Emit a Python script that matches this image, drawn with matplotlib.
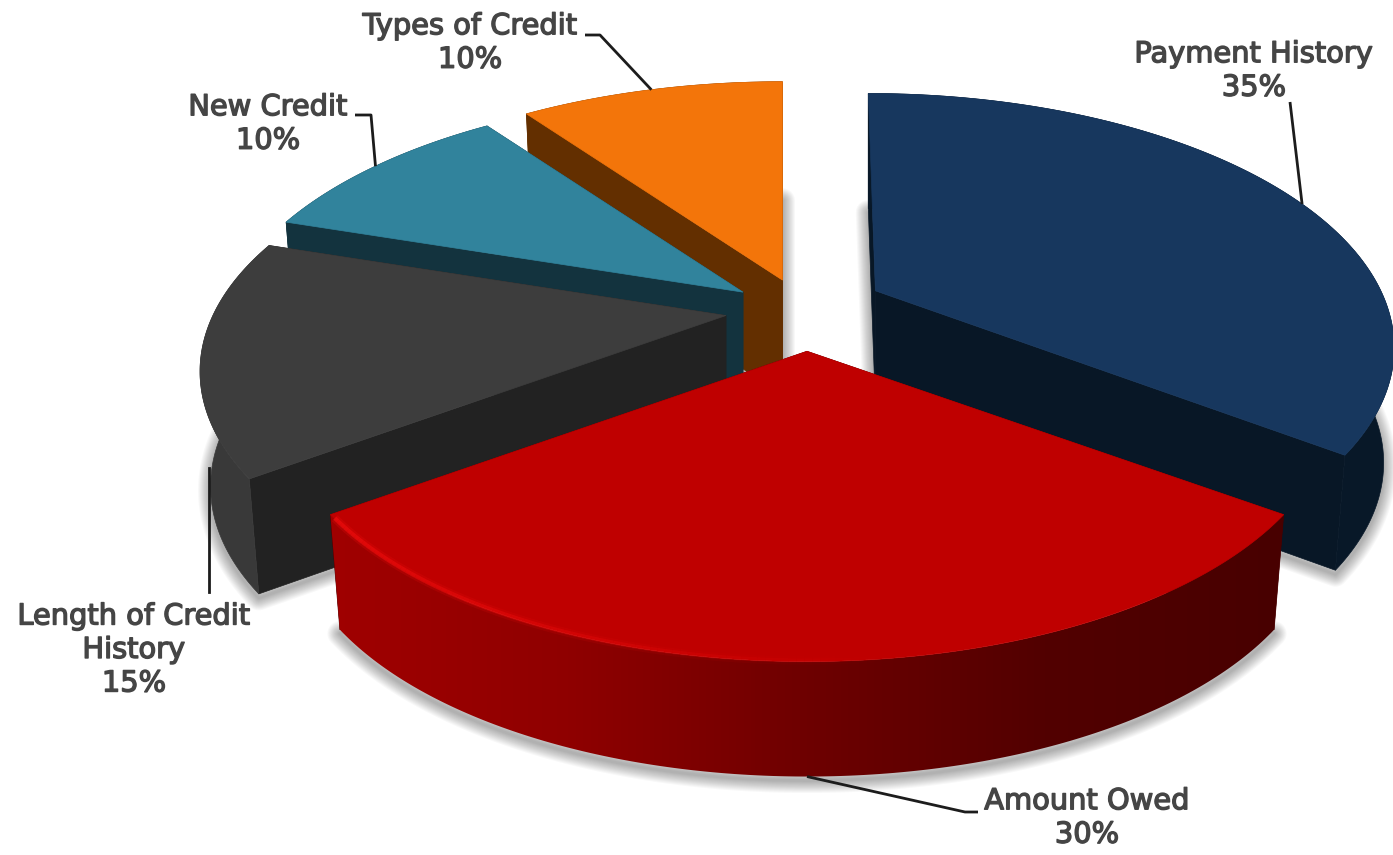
import matplotlib
matplotlib.use("Agg")
import matplotlib.pyplot as plt
import matplotlib.patheffects as pe
import numpy as np
from matplotlib.collections import LineCollection
from matplotlib.colors import to_rgb
from matplotlib.patches import Polygon

categories = ["Payment History", "Amount Owed", "Length of Credit\nHistory", "New Credit", "Types of Credit"]
shares = [35, 30, 15, 10, 10]
top_colors = ["#17375e", "#bf0000", "#3d3d3d", "#31839c", "#f3750a"]
cut_colors = ["#081726", "#4a0000", "#222222", "#13333e", "#632f00"]
rim_colors = ["#081828", "#8a0000", "#393939", "#13333e", "#632f00"]

# how far each slice is pulled out of the pie, and how much its tip is trimmed
explode = [80, 96, 75, 68, 60]
tip_trim = [8, 0, 0, 0, 0]
nudge = [(-5, 5), (5, 2), (-2, 6), (-4, 7), (-1, 3)]

# camera
R = 513.0
FLAT = 242.0 / R
PERSP = 0.22
CX, CY = 802, 304
HEIGHT = 115
BOTTOM_X = 0.98


def project(theta, radius=R):
    # theta in degrees, clockwise from the back of the pie
    t = np.radians(theta)
    x = radius * np.sin(t)
    y = -radius * np.cos(t)
    s = 1 / (1 - y / R * PERSP)
    return x * s, FLAT * y * s


def rim(center, theta):
    lx, ly = project(theta)
    return np.column_stack([center[0] + lx, center[1] + ly])


def rim_bottom(center, theta):
    lx, ly = project(theta)
    return np.column_stack([center[0] + lx * BOTTOM_X, center[1] + ly + HEIGHT])


def soft_shadow(ax, pts, z):
    for lw in np.linspace(18, 2, 12):
        ax.add_patch(Polygon(pts + [0, 4], closed=True, fc="none", ec="black", lw=lw,
                             alpha=0.028, joinstyle="round", zorder=z))


def gradient_fill(ax, poly, stops, z):
    x0, x1 = poly[:, 0].min(), poly[:, 0].max()
    pos = np.linspace(0, 1, 256)
    rgb = np.array([to_rgb(c) for c in stops])
    grid = np.linspace(0, 1, len(stops))
    img = np.stack([np.interp(pos, grid, rgb[:, i]) for i in range(3)], axis=-1)[None, :, :]
    im = ax.imshow(img, extent=(x0, x1, poly[:, 1].max(), poly[:, 1].min()),
                   aspect="auto", zorder=z)
    patch = Polygon(poly, closed=True, transform=ax.transData, fc="none", ec="none")
    ax.add_patch(patch)
    im.set_clip_path(patch)


fig = plt.figure(figsize=(13.93, 8.55), dpi=100)
ax = fig.add_axes([0, 0, 1, 1])
ax.set_xlim(0, 1393)
ax.set_ylim(855, 0)
ax.axis("off")

ends = np.cumsum(shares) / np.sum(shares) * 360
starts = np.concatenate([[0], ends[:-1]])

# back slices first, the big front slice last
draw_order = [4, 3, 2, 0, 1]
slices = {}
for layer, i in enumerate(draw_order):
    z = 2 + layer * 4
    a0, a1 = starts[i], ends[i]
    mid = (a0 + a1) / 2
    t = np.radians(mid)
    center = np.array([CX + explode[i] * np.sin(t) + nudge[i][0],
                       CY - FLAT * explode[i] * np.cos(t) + nudge[i][1]])
    tip = center + tip_trim[i] * np.array([np.sin(t), -np.cos(t) * 0.3])
    theta = np.linspace(a0, a1, 160)
    top = rim(center, theta)
    bottom = rim_bottom(center, theta)
    slices[i] = center

    tip_low = tip + [0, HEIGHT]
    outline = np.vstack([tip_low[None, :], bottom])
    soft_shadow(ax, outline, z)

    for end in (0, -1):
        cut = np.array([tip, top[end], bottom[end], tip_low])
        ax.add_patch(Polygon(cut, closed=True, fc=cut_colors[i], ec=cut_colors[i], lw=0.5, zorder=z + 1))

    wall = np.vstack([top, bottom[::-1]])
    if i == 1:
        gradient_fill(ax, wall, ["#a00000", "#8f0000", "#6e0000", "#520000", "#480000"], z + 2)
    else:
        ax.add_patch(Polygon(wall, closed=True, fc=rim_colors[i], ec=rim_colors[i], lw=0.5, zorder=z + 2))

    face = np.vstack([tip[None, :], top])
    ax.add_patch(Polygon(face, closed=True, fc=top_colors[i], ec=top_colors[i], lw=0.5, zorder=z + 3))

    # bright bevel along the front edge of the red slice
    if i == 1:
        seg_t = np.linspace(a1 - 1, mid - 8, 90)
        pts = rim(center, seg_t) + [0, -1]
        segs = np.stack([pts[:-1], pts[1:]], axis=1)
        for width, peak in ((6, 0.25), (3, 0.7)):
            fade = np.linspace(peak, 0, len(segs))
            colors = [(0.93, 0.05, 0.05, a) for a in fade]
            ax.add_collection(LineCollection(segs, colors=colors, linewidths=width, zorder=z + 3))

# leader lines run from the rim of a slice to its label
leader_frac = [0.53, 0.5, 0.5, 0.5, 0.5]
leader_path = {
    0: [(1290, 102)],
    1: [(965, 812), (978, 812)],
    3: [(371, 115), (355, 115)],
    4: [(600, 35), (585, 35)],
}
for i, path in leader_path.items():
    angle = starts[i] + leader_frac[i] * (ends[i] - starts[i])
    anchor = rim(slices[i], np.array([angle]))[0]
    if i == 1:
        anchor = anchor + [0, HEIGHT]
    xy = np.vstack([anchor[None, :], np.array(path)])
    ax.plot(xy[:, 0], xy[:, 1], color="#1c1c1c", lw=2.0, zorder=30, solid_capstyle="butt", solid_joinstyle="round")

# the long slice's leader leaves from behind its wall
lead_x = rim(slices[2], np.array([255.0]))[0, 0] + 9
ax.plot([lead_x, lead_x], [468, 592], color="#1c1c1c", lw=2.0, zorder=30)

label_xy = [(1254, 71), (1087, 818), (134, 650), (268, 124), (470, 43)]
for name, share, (x, y) in zip(categories, shares, label_xy):
    ax.text(x, y, f"{name}\n{share}%", ha="center", va="center", color="#454545",
            fontsize=20.8, family="DejaVu Sans", linespacing=1.25, zorder=31,
            path_effects=[pe.withStroke(linewidth=1.0, foreground="#454545")])

fig.savefig("out.png", dpi=100)
